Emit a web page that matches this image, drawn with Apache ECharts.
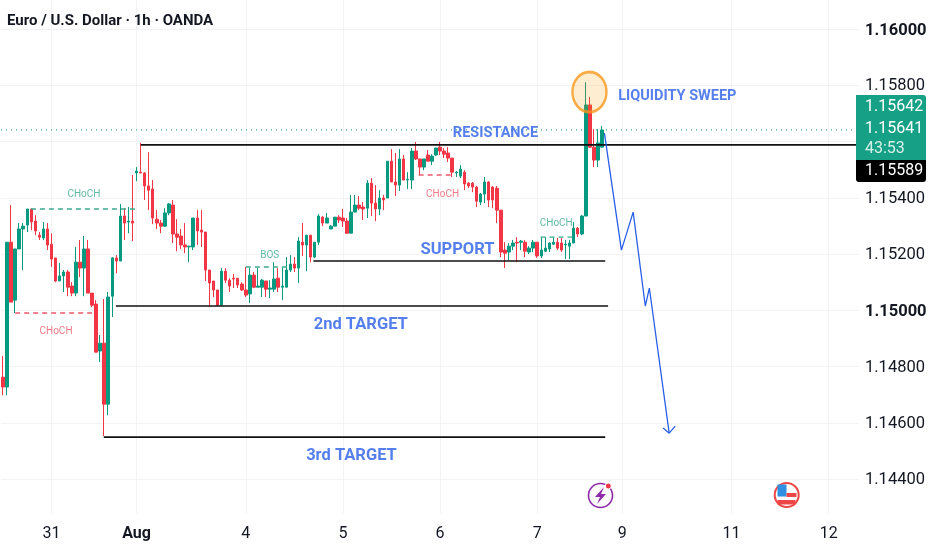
<!DOCTYPE html>
<html>
<head>
<meta charset="utf-8">
<style>html,body{margin:0;padding:0;background:#fff}#c{width:932px;height:550px}</style>
<script src="https://cdn.jsdelivr.net/npm/echarts@6/dist/echarts.min.js"></script>
</head>
<body>
<div id="c"></div>
<script>
// Hourly candles: [open, close, low, high]
const candles = [
[1.14762,1.14727,1.14698,1.14837],[1.14727,1.15242,1.14698,1.15242],[1.15242,1.15029,1.15029,1.15374],[1.15036,1.15218,1.14990,1.15218],
[1.15218,1.15289,1.15218,1.15310],[1.15289,1.15299,1.15143,1.15310],[1.15303,1.15360,1.15278,1.15360],[1.15360,1.15314,1.15285,1.15360],
[1.15317,1.15282,1.15267,1.15338],[1.15267,1.15260,1.15250,1.15278],[1.15257,1.15289,1.15250,1.15314],[1.15289,1.15232,1.15214,1.15310],
[1.15235,1.15182,1.15154,1.15274],[1.15186,1.15104,1.15100,1.15186],[1.15104,1.15122,1.15104,1.15168],[1.15122,1.15136,1.15065,1.15143],
[1.15136,1.15082,1.15050,1.15143],[1.15086,1.15061,1.15050,1.15100],[1.15061,1.15171,1.15050,1.15225],[1.15171,1.15150,1.15118,1.15250],
[1.15150,1.15218,1.15050,1.15264],[1.15218,1.15061,1.15061,1.15250],[1.15061,1.15018,1.15011,1.15061],[1.15022,1.14851,1.14851,1.15036],
[1.14855,1.14883,1.14816,1.14912],[1.14883,1.14666,1.14553,1.15040],[1.14666,1.15047,1.14627,1.15065],[1.15050,1.15186,1.14976,1.15189],
[1.15186,1.15175,1.15132,1.15196],[1.15175,1.15335,1.15175,1.15378],[1.15335,1.15310,1.15250,1.15363],[1.15314,1.15317,1.15274,1.15367],
[1.15317,1.15310,1.15246,1.15481],[1.15488,1.15495,1.15459,1.15509],[1.15491,1.15488,1.15488,1.15595],[1.15488,1.15442,1.15392,1.15491],
[1.15442,1.15427,1.15356,1.15562],[1.15431,1.15328,1.15306,1.15463],[1.15324,1.15310,1.15289,1.15356],[1.15310,1.15299,1.15274,1.15321],
[1.15299,1.15346,1.15296,1.15363],[1.15346,1.15378,1.15338,1.15381],[1.15374,1.15271,1.15239,1.15392],[1.15271,1.15260,1.15210,1.15324],
[1.15264,1.15232,1.15218,1.15289],[1.15232,1.15225,1.15203,1.15310],[1.15225,1.15228,1.15171,1.15228],[1.15225,1.15328,1.15214,1.15328],
[1.15328,1.15282,1.15232,1.15356],[1.15285,1.15278,1.15225,1.15356],[1.15278,1.15143,1.15104,1.15278],[1.15143,1.15097,1.15011,1.15143],
[1.15104,1.15072,1.15047,1.15104],[1.15072,1.15018,1.15015,1.15072],[1.15018,1.15139,1.15018,1.15150],[1.15139,1.15107,1.15097,1.15150],
[1.15107,1.15086,1.15065,1.15114],[1.15114,1.15111,1.15079,1.15129],[1.15114,1.15090,1.15079,1.15114],[1.15093,1.15072,1.15068,1.15100],
[1.15072,1.15054,1.15047,1.15154],[1.15058,1.15125,1.15026,1.15150],[1.15125,1.15082,1.15079,1.15136],[1.15082,1.15086,1.15082,1.15150],
[1.15082,1.15107,1.15047,1.15111],[1.15104,1.15075,1.15047,1.15104],[1.15075,1.15079,1.15043,1.15107],[1.15075,1.15111,1.15065,1.15171],
[1.15114,1.15082,1.15065,1.15150],[1.15082,1.15086,1.15036,1.15150],[1.15082,1.15143,1.15082,1.15189],[1.15143,1.15164,1.15136,1.15196],
[1.15164,1.15150,1.15136,1.15189],[1.15150,1.15246,1.15097,1.15260],[1.15242,1.15232,1.15193,1.15310],[1.15232,1.15267,1.15139,1.15267],
[1.15267,1.15189,1.15171,1.15267],[1.15189,1.15242,1.15186,1.15242],[1.15242,1.15335,1.15232,1.15342],[1.15331,1.15310,1.15299,1.15335],
[1.15310,1.15328,1.15310,1.15346],[1.15289,1.15299,1.15289,1.15303],[1.15299,1.15331,1.15299,1.15331],[1.15331,1.15321,1.15310,1.15338],
[1.15328,1.15317,1.15296,1.15360],[1.15317,1.15274,1.15271,1.15328],[1.15274,1.15349,1.15274,1.15410],[1.15349,1.15374,1.15349,1.15410],
[1.15374,1.15363,1.15356,1.15406],[1.15367,1.15360,1.15321,1.15385],[1.15363,1.15452,1.15328,1.15463],[1.15452,1.15381,1.15335,1.15470],
[1.15381,1.15360,1.15317,1.15445],[1.15360,1.15399,1.15338,1.15427],[1.15399,1.15392,1.15356,1.15410],[1.15399,1.15530,1.15399,1.15530],
[1.15530,1.15456,1.15456,1.15573],[1.15456,1.15445,1.15406,1.15559],[1.15445,1.15538,1.15424,1.15573],[1.15538,1.15463,1.15463,1.15552],
[1.15463,1.15466,1.15431,1.15491],[1.15463,1.15566,1.15431,1.15577],[1.15566,1.15538,1.15534,1.15598],[1.15538,1.15509,1.15481,1.15538],
[1.15509,1.15538,1.15498,1.15538],[1.15552,1.15530,1.15530,1.15570],[1.15530,1.15548,1.15516,1.15555],[1.15552,1.15577,1.15548,1.15577],
[1.15580,1.15566,1.15552,1.15598],[1.15566,1.15555,1.15541,1.15577],[1.15559,1.15541,1.15527,1.15580],[1.15541,1.15491,1.15474,1.15541],
[1.15488,1.15491,1.15474,1.15495],[1.15477,1.15502,1.15470,1.15516],[1.15491,1.15449,1.15427,1.15498],[1.15452,1.15442,1.15434,1.15456],
[1.15452,1.15438,1.15420,1.15456],[1.15438,1.15388,1.15367,1.15442],[1.15385,1.15413,1.15374,1.15417],[1.15413,1.15456,1.15381,1.15474],
[1.15456,1.15392,1.15367,1.15459],[1.15438,1.15392,1.15363,1.15442],[1.15434,1.15356,1.15310,1.15442],[1.15356,1.15207,1.15189,1.15356],
[1.15214,1.15203,1.15150,1.15242],[1.15207,1.15228,1.15178,1.15239],[1.15228,1.15239,1.15214,1.15250],[1.15242,1.15239,1.15171,1.15260],
[1.15242,1.15246,1.15214,1.15250],[1.15242,1.15210,1.15189,1.15250],[1.15207,1.15221,1.15200,1.15228],[1.15221,1.15242,1.15207,1.15250],
[1.15242,1.15193,1.15186,1.15242],[1.15193,1.15214,1.15186,1.15260],[1.15210,1.15221,1.15207,1.15260],[1.15218,1.15239,1.15207,1.15242],
[1.15235,1.15242,1.15232,1.15260],[1.15242,1.15221,1.15214,1.15257],[1.15239,1.15214,1.15207,1.15257],[1.15232,1.15235,1.15182,1.15250],
[1.15228,1.15239,1.15182,1.15250],[1.15239,1.15292,1.15239,1.15314],[1.15292,1.15271,1.15260,1.15296],[1.15271,1.15335,1.15267,1.15338],
[1.15335,1.15730,1.15335,1.15811],[1.15730,1.15580,1.15577,1.15758],[1.15580,1.15534,1.15509,1.15644],[1.15534,1.15595,1.15509,1.15644],
[1.15580,1.15641,1.15577,1.15655]
];
const SLOTS = 212;
const dateLabels = {12:'31',33:'Aug',60:'4',84:'5',108:'6',132:'7',153:'9',180:'11',204:'12'};
const priceTicks = [1.144,1.146,1.148,1.150,1.152,1.154,1.156,1.158,1.160];
const priceLabels = [1.144,1.146,1.148,1.150,1.152,1.154,1.158,1.160];
const boldPrices = ['1.15000','1.16000'];
const title = 'Euro / U.S. Dollar \u00b7 1h \u00b7 OANDA';
// Horizontal levels: [fromHour, toHour, price]
const solidLevels = [[34.05,210.8,1.15588],[27.9,149.5,1.15015],[76.7,148.8,1.15175],[24.9,148.8,1.14549]];
const greenDashes = [[6.9,33.1,1.15360],[60,71,1.15154],[132.8,140.7,1.15260]];
const redDashes = [[3,22.9,1.14990],[102.7,110.6,1.15481]];
const lastPrice = 1.15641;
const forecastPath = [[148.6,1.15630],[152.8,1.15214],[155.7,1.15349],[158.7,1.15015],[159.7,1.15079],[164.6,1.14563]];
const forecastArrow = [[163.1,1.14581],[164.6,1.14563],[166.1,1.14588]];
const sweepCircle = [[144.9,1.15776]];
const smallNotes = [[20,1.15417,'CHoCH','g'],[13.1,1.14930,'CHoCH','r'],[65.9,1.15203,'BOS','g'],[108.6,1.15420,'CHoCH','r'],[136.7,1.15314,'CHoCH','g']];
const bigNotes = [[166.6,1.15769,'LIQUIDITY SWEEP',14.5],[121.7,1.15637,'RESISTANCE',14.5],[112.3,1.15221,'SUPPORT',16.5],[88.4,1.14954,'2nd TARGET',16.5],[86.1,1.14489,'3rd TARGET',16.5]];
const tagTexts = ['1.15642','1.15641','43:53','1.15589'];

const UP='#089981', DOWN='#f23645', BLUE='#2a5fe8', INK='#131722', GRID='#f2f3f5';
const FONT='Roboto, "Liberation Sans", sans-serif';
const categories = Array.from({length:SLOTS},(_,i)=>dateLabels[i]||'');

function levelSeries(levels, style, z){
  return levels.map(l=>({type:'line',xAxisIndex:1,yAxisIndex:0,symbol:'none',silent:true,z:z,
    data:[[l[0],l[2]],[l[1],l[2]]],lineStyle:style}));
}
const chart = echarts.init(document.getElementById('c'),null,{renderer:'canvas'});
chart.setOption({
  animation:false,
  backgroundColor:'#ffffff',
  title:{text:title,left:7,top:14,padding:0,textStyle:{fontFamily:FONT,fontSize:15,fontWeight:700,color:INK}},
  grid:{left:0,top:0,width:859,height:514},
  xAxis:[{
    type:'category',data:categories,boundaryGap:true,
    axisLine:{show:false},
    axisTick:{show:false,alignWithLabel:true},
    axisLabel:{interval:0,margin:12,fontFamily:FONT,fontSize:16,color:INK,
      formatter:v=>v==='Aug'?'{b|Aug}':v,
      rich:{b:{fontFamily:FONT,fontSize:16,fontWeight:700,color:INK}}},
    splitLine:{show:true,alignWithLabel:true,interval:(i,v)=>v!=='',lineStyle:{color:GRID,width:1}}
  },{
    type:'value',min:-0.5,max:SLOTS-0.5,show:false,splitLine:{show:false}
  }],
  yAxis:{
    type:'value',position:'right',min:1.142756,max:1.161031,
    axisLine:{show:false},
    axisTick:{show:false,customValues:priceTicks},
    axisLabel:{customValues:priceLabels,margin:6,fontFamily:FONT,fontSize:16.5,color:INK,align:'left',verticalAlign:'middle',lineHeight:20,padding:[2,0,0,0],
      formatter:v=>{const s=v.toFixed(5);return boldPrices.includes(s)?'{b|'+s+'}':s;},
      rich:{b:{fontFamily:FONT,fontSize:16.5,fontWeight:700,color:INK,padding:[2,0,0,0]}}},
    splitLine:{show:true,lineStyle:{color:GRID,width:1}}
  },
  series:[
    {type:'candlestick',xAxisIndex:0,yAxisIndex:0,data:candles,barWidth:3,z:3,silent:true,
     itemStyle:{color:UP,color0:DOWN,borderColor:UP,borderColor0:DOWN,borderWidth:1}},
    {type:'line',xAxisIndex:1,yAxisIndex:0,symbol:'none',silent:true,z:2,
     data:[[-0.5,lastPrice],[SLOTS-0.5,lastPrice]],
     lineStyle:{color:'#36a78f',width:1.2,type:[1,4]}},
    ...levelSeries(solidLevels,{color:'#111111',width:1.6},4),
    ...levelSeries(greenDashes,{color:'#3aa98f',width:1.4,type:[5,4]},4),
    ...levelSeries(redDashes,{color:'#ec5a6c',width:1.4,type:[5,4]},4),
    {type:'line',xAxisIndex:1,yAxisIndex:0,symbol:'none',silent:true,z:5,data:forecastPath,lineStyle:{color:BLUE,width:1.3}},
    {type:'line',xAxisIndex:1,yAxisIndex:0,symbol:'none',silent:true,z:5,data:forecastArrow,lineStyle:{color:BLUE,width:1.3}},
    {type:'scatter',xAxisIndex:1,yAxisIndex:0,silent:true,z:6,data:sweepCircle,symbol:'circle',symbolSize:[34,40],
     itemStyle:{color:'rgba(255,152,0,0.22)',borderColor:'#f7991c',borderWidth:2.6}},
    {type:'scatter',xAxisIndex:1,yAxisIndex:0,silent:true,z:7,symbolSize:0,
     data:smallNotes.map(n=>({value:[n[0],n[1]],label:{formatter:n[2],color:n[3]==='g'?'#3aa98f':'#ec5a6c'}})),
     label:{show:true,position:'inside',offset:[0,2],fontFamily:FONT,fontSize:10}},
    {type:'scatter',xAxisIndex:1,yAxisIndex:0,silent:true,z:7,symbolSize:0,
     data:bigNotes.map(n=>({value:[n[0],n[1]],label:{formatter:n[2],fontSize:n[3]}})),
     label:{show:true,position:'inside',offset:[0,2],fontFamily:FONT,fontWeight:700,color:BLUE}}
  ],
  graphic:[
    {type:'rect',z:100,shape:{x:856,y:95,width:70,height:65,r:[0,3,0,0]},style:{fill:'#16a085'}},
    {type:'rect',z:100,shape:{x:856,y:160,width:70,height:22,r:[0,0,3,3]},style:{fill:'#000000'}},
    {type:'text',z:101,style:{x:865,y:107,text:tagTexts[0],fill:'#ffffff',font:'16px '+FONT,textVerticalAlign:'middle'}},
    {type:'text',z:101,style:{x:865,y:129,text:tagTexts[1],fill:'#ffffff',font:'16px '+FONT,textVerticalAlign:'middle'}},
    {type:'text',z:101,style:{x:865,y:149,text:tagTexts[2],fill:'#d5efe9',font:'16px '+FONT,textVerticalAlign:'middle'}},
    {type:'text',z:101,style:{x:865,y:171,text:tagTexts[3],fill:'#ffffff',font:'16px '+FONT,textVerticalAlign:'middle'}},
    {type:'circle',z:100,shape:{cx:600.5,cy:495.5,r:12},style:{fill:'#ffffff',stroke:'#8e2aa8',lineWidth:1.6}},
    {type:'polygon',z:101,shape:{points:[[604,487],[595,497],[600,497],[597,504],[606,494],[601,494]]},style:{fill:'#8e2aa8'}},
    {type:'circle',z:102,shape:{cx:608.3,cy:486,r:3},style:{fill:'#f23645',stroke:'#ffffff',lineWidth:1}},
    {type:'circle',z:100,shape:{cx:786.7,cy:495,r:12},style:{fill:'#ffffff',stroke:'#ec4646',lineWidth:2}},
    {type:'rect',z:101,shape:{x:777.5,y:484.5,width:9,height:12},style:{fill:'#2f8fe0'}},
    {type:'rect',z:101,shape:{x:786.5,y:493,width:10,height:4},style:{fill:'#ec4646'}},
    {type:'rect',z:101,shape:{x:777.5,y:500,width:18,height:4.5},style:{fill:'#ec4646'}}
  ]
});
</script>
</body>
</html>
